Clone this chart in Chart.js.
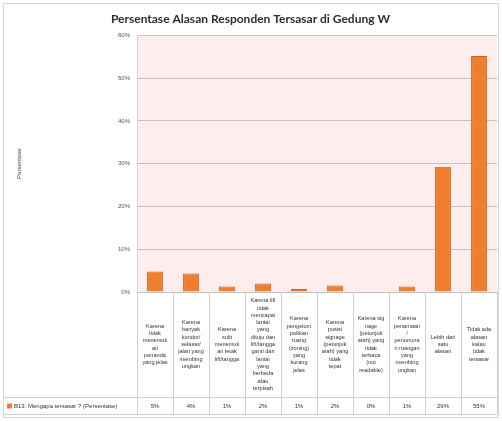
<!DOCTYPE html>
<html>
<head>
<meta charset="utf-8">
<script src="https://cdn.jsdelivr.net/npm/chart.js@4.4.0/dist/chart.umd.min.js"></script>
<style>
  html, body { margin: 0; padding: 0; background: #ffffff; }
  #wrap { width: 502px; height: 421px; }
</style>
</head>
<body>
<div id="wrap"><canvas id="chart"></canvas></div>
<script>
// categories, as wrapped in the data table under the chart
const categories = [
    ['Karena', 'tidak', 'menemuk', 'an', 'penanda', 'yang jelas'],
    ['Karena', 'banyak', 'koridor/', 'selasar/', 'jalan yang', 'membing', 'ungkan'],
    ['Karena', 'sulit', 'menemuk', 'an letak', 'lift/tangga'],
    ['Karena lift', 'tidak', 'mencapai', 'lantai', 'yang', 'dituju dan', 'lift/tangga', 'ganti dari', 'lantai', 'yang', 'berbeda', 'atau', 'terpisah'],
    ['Karena', 'pengelom', 'pokkan', 'ruang', '(zoning)', 'yang', 'kurang', 'jelas'],
    ['Karena', 'posisi', 'signage', '(petunjuk', 'arah) yang', 'tidak', 'tepat'],
    ['Karena sig', 'nage', '(petunjuk', 'arah) yang', 'tidak', 'terbaca', '(not', 'readable)'],
    ['Karena', 'penamaan', '/', 'penomora', 'n ruangan', 'yang', 'membing', 'ungkan'],
    ['Lebih dari', 'satu', 'alasan'],
    ['Tidak ada', 'alasan', 'kalau', 'tidak', 'tersasar']
];
const seriesName = 'B13. Mengapa tersasar ? (Persentase)';
const percentages = [4.8, 4.3, 1.3, 2.0, 0.7, 1.5, 0, 1.3, 29.3, 55.2];
const yTicks = [0, 10, 20, 30, 40, 50, 60];

const orange = '#f07e2c';
const lineGray = '#cfcfcf';

// draws the frame, the data table under the plot and the legend key
const tablePlugin = {
    id: 'dataTable',
    beforeDraw(chart) {
        const ctx = chart.ctx;
        ctx.save();
        ctx.strokeStyle = '#d6d6d6';
        ctx.lineWidth = 1;
        ctx.strokeRect(3.5, 3.5, 495, 414);
        ctx.restore();
    },
    afterDraw(chart) {
        const ctx = chart.ctx;
        const x = chart.scales.x;
        const area = chart.chartArea;
        const top = area.bottom;
        const rowTop = 397;
        const rowBottom = 414;
        const step = x.getPixelForValue(1) - x.getPixelForValue(0);
        ctx.save();
        ctx.strokeStyle = lineGray;
        ctx.lineWidth = 1;
        ctx.beginPath();
        for (let i = 0; i <= categories.length; i++) {
            const px = Math.round(x.getPixelForValue(i) - step / 2) + 0.5;
            ctx.moveTo(px, top);
            ctx.lineTo(px, rowBottom);
        }
        ctx.moveTo(3.5, rowTop + 0.5);
        ctx.lineTo(area.right, rowTop + 0.5);
        ctx.moveTo(3.5, rowBottom + 0.5);
        ctx.lineTo(area.right, rowBottom + 0.5);
        ctx.stroke();

        ctx.fillStyle = '#333333';
        ctx.textAlign = 'center';
        ctx.textBaseline = 'middle';
        ctx.font = '5.6px "Liberation Sans", Arial, sans-serif';
        const lh = 7.3;
        const mid = (top + rowTop) / 2;
        categories.forEach((lines, i) => {
            const cx = x.getPixelForValue(i);
            const y0 = mid - (lines.length - 1) * lh / 2;
            lines.forEach((t, j) => ctx.fillText(t, cx, y0 + j * lh));
        });

        const vy = (rowTop + rowBottom) / 2 + 1;
        ctx.font = '6px "Liberation Sans", Arial, sans-serif';
        percentages.forEach((v, i) => {
            ctx.fillText(Math.round(v) + '%', x.getPixelForValue(i), vy);
        });

        ctx.fillStyle = orange;
        ctx.fillRect(7, vy - 3, 5, 5);
        ctx.fillStyle = '#333333';
        ctx.textAlign = 'left';
        ctx.fillText(seriesName, 14, vy);
        ctx.restore();
    }
};

// light pink plot background
const plotBg = {
    id: 'plotBg',
    beforeDraw(chart) {
        const a = chart.chartArea;
        const ctx = chart.ctx;
        ctx.save();
        ctx.fillStyle = '#fdeeed';
        ctx.fillRect(a.left, a.top, a.right - a.left, a.bottom - a.top);
        ctx.restore();
    }
};

new Chart(document.getElementById('chart').getContext('2d'), {
    type: 'bar',
    data: {
        labels: categories.map(c => c.join(' ')),
        datasets: [{
            label: seriesName,
            data: percentages,
            backgroundColor: orange,
            borderColor: '#c9621c',
            borderWidth: 1,
            barPercentage: 0.44,
            categoryPercentage: 1
        }]
    },
    options: {
        responsive: true,
        maintainAspectRatio: false,
        animation: false,
        layout: { padding: { left: 4, right: 5, top: 0, bottom: 121 } },
        scales: {
            x: {
                ticks: { display: false },
                grid: { display: false },
                border: { color: '#bfbfbf' }
            },
            y: {
                min: 0,
                max: 60,
                afterBuildTicks: s => { s.ticks = yTicks.map(v => ({ value: v })); },
                afterFit: s => { s.width = 133; },
                ticks: {
                    callback: v => v + '%',
                    color: '#555555',
                    padding: 7,
                    font: { size: 6, family: '"Liberation Sans", Arial, sans-serif' }
                },
                grid: { color: '#c8c0c0', drawTicks: false },
                border: { color: '#d8d0d0' },
                title: {
                    display: true,
                    text: 'Persentase',
                    color: '#444444',
                    padding: { top: 12 },
                    font: { size: 6, family: '"Liberation Sans", Arial, sans-serif' }
                }
            }
        },
        plugins: {
            legend: { display: false },
            tooltip: { enabled: false },
            title: {
                display: true,
                text: 'Persentase Alasan Responden Tersasar di Gedung W',
                color: '#2e2e2e',
                font: { size: 12, weight: 'bold', family: 'Lato, "Open Sans", sans-serif' },
                padding: { top: 12, bottom: 9 }
            }
        }
    },
    plugins: [plotBg, tablePlugin]
});
</script>
</body>
</html>
